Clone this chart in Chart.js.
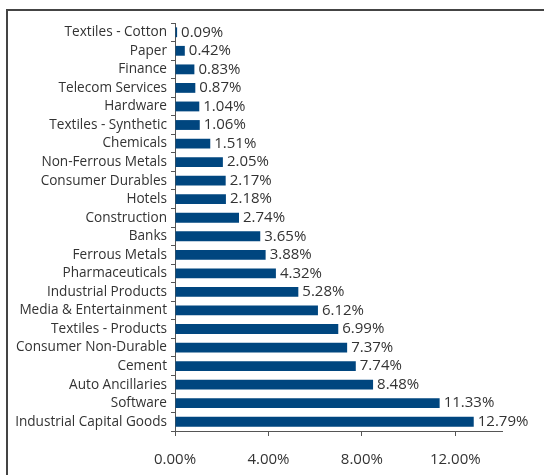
<!DOCTYPE html>
<html>
<head>
<meta charset="utf-8">
<script src="https://cdn.jsdelivr.net/npm/chart.js@4"></script>
<style>
  html, body { margin: 0; padding: 0; background: #fff; overflow: hidden; }
  #wrap { position: relative; width: 544px; height: 475px; }
  #frame { position: absolute; left: 6px; top: 9px; width: 600px; height: 500px; border: 2px solid #444; box-sizing: border-box; }
  canvas { position: absolute; left: 0; top: 0; }
</style>
</head>
<body>
<div id="wrap">
  <div id="frame"></div>
  <canvas id="sectorChart" width="544" height="475"></canvas>
</div>
<script>
const sectors = ['Textiles - Cotton', 'Paper', 'Finance', 'Telecom Services', 'Hardware', 'Textiles - Synthetic',
  'Chemicals', 'Non-Ferrous Metals', 'Consumer Durables', 'Hotels', 'Construction', 'Banks', 'Ferrous Metals',
  'Pharmaceuticals', 'Industrial Products', 'Media & Entertainment', 'Textiles - Products', 'Consumer Non-Durable',
  'Cement', 'Auto Ancillaries', 'Software', 'Industrial Capital Goods'];
const weights = [0.09, 0.42, 0.83, 0.87, 1.04, 1.06, 1.51, 2.05, 2.17, 2.18, 2.74, 3.65, 3.88, 4.32, 5.28, 6.12,
  6.99, 7.37, 7.74, 8.48, 11.33, 12.79];
const xTickLabels = ['0.00%', '4.00%', '8.00%', '12.00%'];

const fontFamily = "'Open Sans', sans-serif";
const textColor = '#333';

// draws the value next to each bar
const valueLabels = {
  id: 'valueLabels',
  afterDatasetsDraw(chart) {
    const c = chart.ctx;
    const meta = chart.getDatasetMeta(0);
    c.save();
    c.font = '15px ' + fontFamily;
    c.fillStyle = textColor;
    c.textAlign = 'left';
    c.textBaseline = 'middle';
    meta.data.forEach((bar, i) => {
      c.fillText(weights[i].toFixed(2) + '%', bar.x + 4, bar.y);
    });
    c.restore();
  }
};

const ctx = document.getElementById('sectorChart').getContext('2d');
new Chart(ctx, {
  type: 'bar',
  data: {
    labels: sectors,
    datasets: [{
      data: weights,
      backgroundColor: '#00467f',
      borderWidth: 0,
      barPercentage: 0.53,
      categoryPercentage: 1
    }]
  },
  options: {
    indexAxis: 'y',
    responsive: false,
    animation: false,
    layout: { padding: { top: 23, right: 42, bottom: 0, left: 0 } },
    plugins: { legend: { display: false }, tooltip: { enabled: false } },
    scales: {
      x: {
        min: 0,
        max: 14,
        grid: { drawOnChartArea: false, drawTicks: true, tickLength: 5, color: '#555', lineWidth: 1 },
        border: { color: '#555', width: 1 },
        ticks: {
          stepSize: 2,
          padding: 15,
          color: textColor,
          font: { family: fontFamily, size: 15 },
          maxRotation: 0,
          callback: (v) => (v % 4 === 0 ? xTickLabels[v / 4] : '')
        },
        afterFit: (scale) => { scale.height = 44; }
      },
      y: {
        grid: { drawOnChartArea: false, drawTicks: true, tickLength: 4, color: '#555', lineWidth: 1, offset: true },
        border: { color: '#555', width: 1 },
        ticks: {
          padding: 4,
          color: textColor,
          autoSkip: false,
          font: { family: fontFamily, size: 13.6 }
        },
        afterFit: (scale) => { scale.width = 175; }
      }
    }
  },
  plugins: [valueLabels]
});
</script>
</body>
</html>
